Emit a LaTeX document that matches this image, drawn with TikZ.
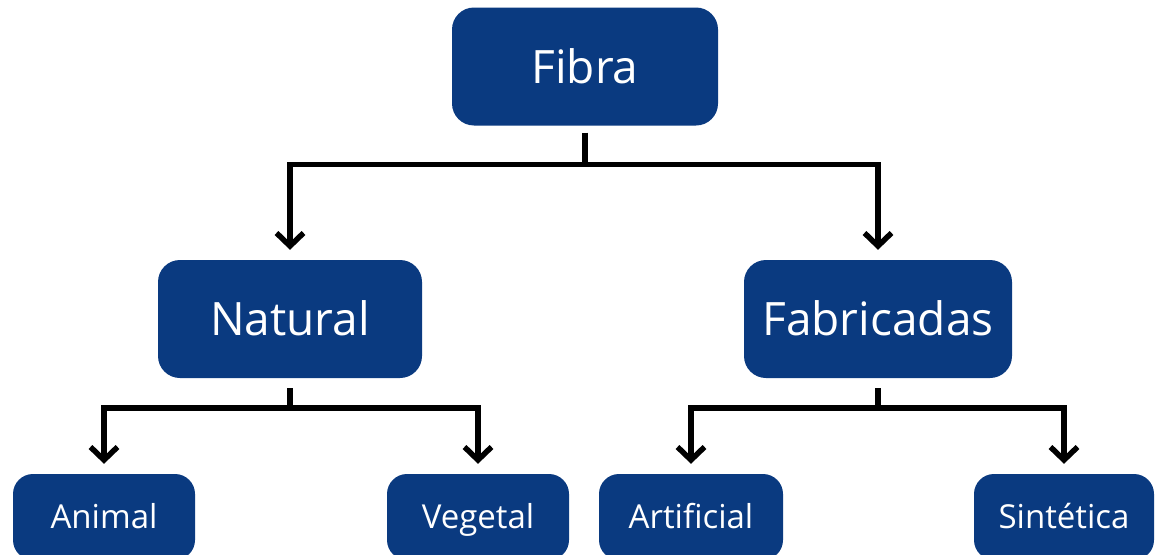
\documentclass[tikz,border=0pt]{standalone}
\usepackage{fontspec}
\setmainfont{Open Sans}
\usetikzlibrary{arrows.meta,calc}
\definecolor{boxblue}{RGB}{10,58,128}
\begin{document}
\begin{tikzpicture}[x=1pt,y=-1pt,
  bigbox/.style={fill=boxblue, rounded corners=22pt, minimum width=266pt, minimum height=118pt,
    text=white, font=\fontsize{46}{50}\selectfont, inner sep=0pt, text height=33pt, text depth=0pt},
  smallbox/.style={fill=boxblue, rounded corners=20pt, minimum width=182pt, minimum height=86pt,
    text=white, font=\fontsize{33}{38}\selectfont, inner sep=0pt, text height=23pt, text depth=0pt},
  link/.style={line width=5.5pt, draw=black},
  arr/.style={link, -{Straight Barb[length=13pt,width=27pt,line width=5.5pt]}, shorten >=10pt}]
\useasboundingbox (0,0) rectangle (1155,554);
\clip (0,0) rectangle (1155,554);
\fill[white] (0,0) rectangle (1155,554);

\node[bigbox] (fibra) at (585,66.5) {Fibra};
\node[bigbox, minimum width=264pt] (natural) at (290,319) {Natural};
\node[bigbox, minimum width=268pt] (fabricadas) at (878,319) {Fabricadas};

\node[smallbox] (animal) at (104,517) {Animal};
\node[smallbox] (vegetal) at (478,517) {Vegetal};
\node[smallbox, minimum width=184pt] (artificial) at (691,517) {Artificial};
\node[smallbox, minimum width=180pt] (sintetica) at (1064,517) {Sintética};

\coordinate (b0) at ($(fibra.south)+(0,39)$);
\coordinate (b1) at ($(natural.south)+(0,30)$);
\coordinate (b2) at ($(fabricadas.south)+(0,30)$);

\draw[link] ($(fibra.south)+(0,7)$) -- (b0);
\draw[arr] (b0) -| (natural.north);
\draw[arr] (b0) -| (fabricadas.north);

\draw[link] ($(natural.south)+(0,10)$) -- (b1);
\draw[arr] (b1) -| (animal.north);
\draw[arr] (b1) -| (vegetal.north);

\draw[link] ($(fabricadas.south)+(0,10)$) -- (b2);
\draw[arr] (b2) -| (artificial.north);
\draw[arr] (b2) -| (sintetica.north);
\end{tikzpicture}
\end{document}
